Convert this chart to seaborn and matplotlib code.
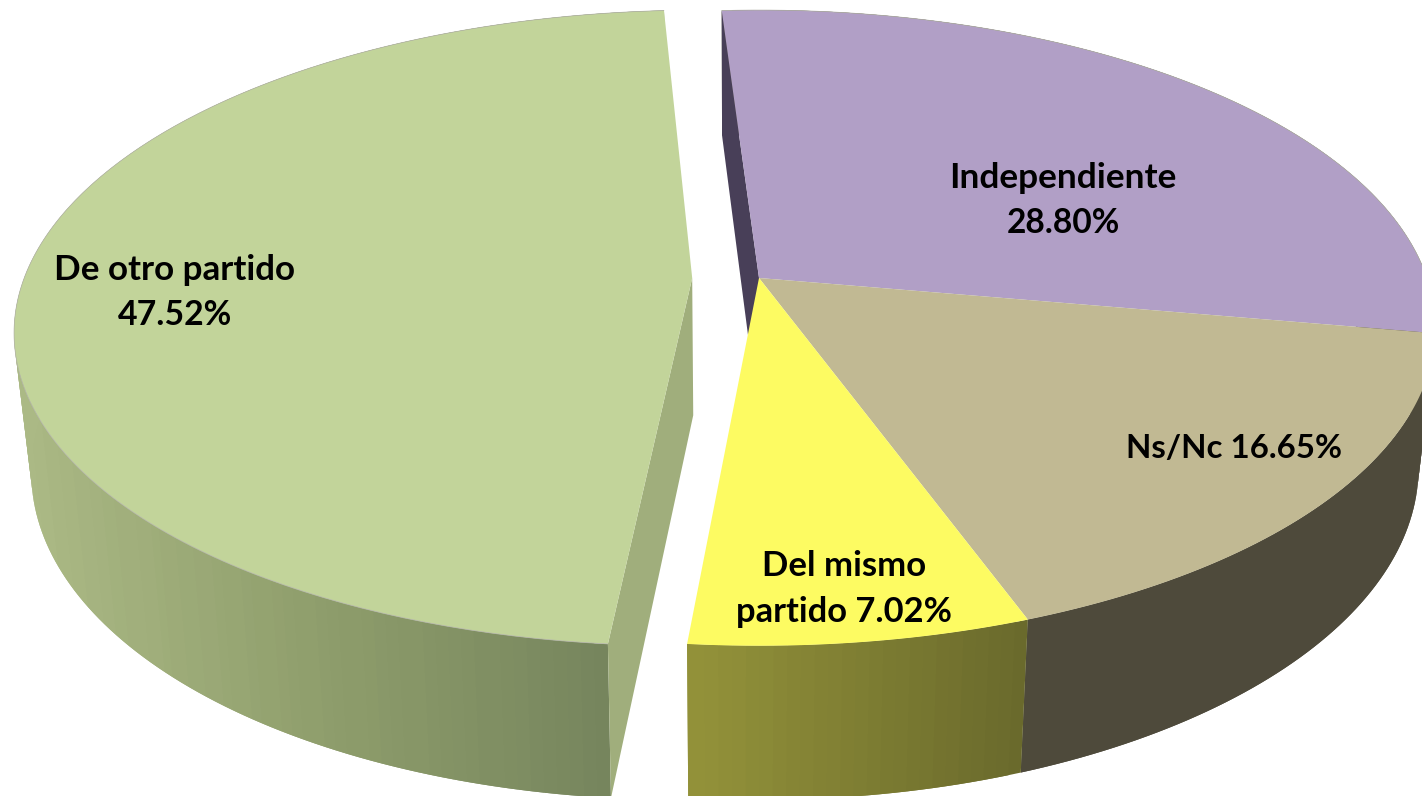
import numpy as np
import matplotlib
matplotlib.use("Agg")
import matplotlib.pyplot as plt
import seaborn as sns

# datos del grafico
categorias = ["Independiente", "Ns/Nc", "Del mismo", "De otro partido"]
valores = [28.80, 16.65, 7.02, 47.52]
desplazados = [0.0, 0.0, 0.0, -0.1]
colores_cara = ["#b19fc6", "#c1b993", "#fdfb62", "#c2d49a"]
colores_pared = [["#4e4a3b", "#4e4a3b"], ["#4e4a3b", "#4e4a3b"],
                 ["#94933a", "#6a6a2c"], ["#abb985", "#8f9e6c", "#76855d"]]
colores_corte = ["#483f58", "#4e4a3b", "#6a6a2c", "#a0ae7c"]

# perspectiva del disco
CX, CY, RX, RY, K = 759, 278, 668, 310, 0.157
INICIO = -3.7


def proyectar(u, v):
    d = 1 + K * v
    return CX + RX * u / d, CY - RY * v / d


def abajo(x, y):
    # base del cilindro
    return 735 + 0.976 * (x - 735), 1.046 * y + 124.5


sns.set_theme(style="white")
plt.rcParams["font.family"] = ["Lato", "DejaVu Sans"]

fig = plt.figure(figsize=(14.22, 7.96), dpi=100)
ax = fig.add_axes([0, 0, 1, 1])
ax.set_xlim(0, 1422)
ax.set_ylim(796, 0)
ax.axis("off")

fracciones = np.array(valores) / sum(valores) * 360
bordes = INICIO + np.concatenate([[0], np.cumsum(fracciones)])

# paredes exteriores
for i in range(len(valores)):
    ang = np.radians(np.arange(bordes[i], bordes[i + 1] + 0.5, 1.0))
    ang[-1] = np.radians(bordes[i + 1])
    x, y = proyectar(np.sin(ang) + desplazados[i], np.cos(ang))
    xb, yb = abajo(x, y)
    paleta = sns.blend_palette(colores_pared[i], 40)
    xfront = x[np.cos(ang) < 0.25]
    for j in range(len(ang) - 1):
        f = (x[j] - xfront.min()) / max(xfront.max() - xfront.min(), 1)
        c = paleta[int(np.clip(f, 0, 1) * 39)]
        # cada franja pisa a la siguiente para que no queden costuras
        k = min(j + 2, len(ang) - 1)
        ax.fill(np.r_[x[j:k + 1], xb[j:k + 1][::-1]],
                np.r_[y[j:k + 1], yb[j:k + 1][::-1]], color=c, lw=0)

# pared de corte de atras
x0, y0 = proyectar(0, 0)
t = np.radians(bordes[0])
x1, y1 = proyectar(np.sin(t), np.cos(t))
ax.fill([x0, x1, abajo(x1, y1)[0], abajo(x0, y0)[0]],
        [y0, y1, abajo(x1, y1)[1], abajo(x0, y0)[1]],
        color=colores_corte[0], lw=0)

# pared de corte de la porcion separada
t = np.radians(bordes[3])
x0, y0 = proyectar(desplazados[3], 0)
x1, y1 = proyectar(np.sin(t) + desplazados[3], np.cos(t))
ax.fill([x0, x1, abajo(x1, y1)[0], abajo(x0, y0)[0]],
        [y0, y1, abajo(x1, y1)[1], abajo(x0, y0)[1]],
        color=colores_corte[3], lw=0)

# caras superiores
for i in range(len(valores)):
    ang = np.radians(np.linspace(bordes[i], bordes[i + 1], 200))
    x, y = proyectar(np.sin(ang) + desplazados[i], np.cos(ang))
    x0, y0 = proyectar(desplazados[i], 0)
    ax.fill(np.r_[x0, x], np.r_[y0, y], color=colores_cara[i], lw=0)
    if i in (0, 3):
        ax.plot(x, y, color="#b4b4aa", lw=0.5)

# etiquetas
txt = dict(ha="center", va="baseline", fontweight="bold", color="black")
ax.text(1063, 188, categorias[0], fontsize=25.4, **txt)
ax.text(1063, 233, f"{valores[0]:.2f}%", fontsize=24.2, **txt)
ax.text(1234, 458, f"{categorias[1]} {valores[1]:.2f}%", fontsize=23.8, **txt)
ax.text(844, 576, categorias[2], fontsize=25, **txt)
ax.text(844, 622, f"partido {valores[2]:.2f}%", fontsize=24.8, **txt)
ax.text(175, 280, categorias[3], fontsize=25.2, **txt)
ax.text(175, 325, f"{valores[3]:.2f}%", fontsize=24.4, **txt)

fig.savefig("out.png", dpi=100)
